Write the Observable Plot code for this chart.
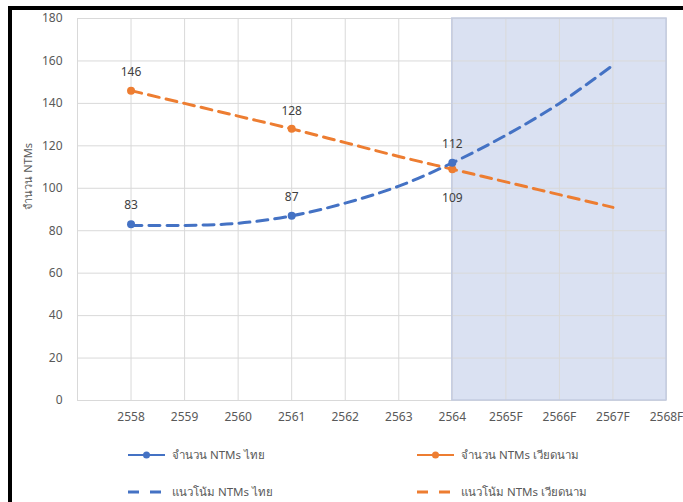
<!DOCTYPE html>
<html><head><meta charset="utf-8">
<script src="https://cdn.jsdelivr.net/npm/d3@7"></script>
<script src="https://cdn.jsdelivr.net/npm/@observablehq/plot@0.6"></script>
<style>
body{margin:0;background:#fff;}
#wrap{position:relative;width:683px;height:502px;overflow:hidden;background:#fff;font-family:"Noto Sans","Open Sans",sans-serif;}
#chart{position:absolute;left:0;top:0;}
#bl{position:absolute;left:8px;top:6px;width:4px;height:496px;background:#000;}
#bt{position:absolute;left:8px;top:6px;width:675px;height:4px;background:#000;}
.leg{position:absolute;height:16px;display:flex;align-items:center;font-size:11.5px;color:#595959;white-space:nowrap;}
.leg svg{margin-right:7px;}
</style></head>
<body>
<div id="wrap">
  <div id="chart"></div>
  <div id="bl"></div><div id="bt"></div>
  <div id="legend"></div>
</div>
<script>
// ---- data ----
const tickYears = [2558, 2559, 2560, 2561, 2562, 2563, 2564, 2565, 2566, 2567, 2568];
const tickLabels = ["2558", "2559", "2560", "2561", "2562", "2563", "2564", "2565F", "2566F", "2567F", "2568F"];
const actualYears = [2558, 2561, 2564];
const thaiActual = [83, 87, 112];
const vnActual = [146, 128, 109];
const trendYears = [2558, 2559, 2560, 2561, 2562, 2563, 2564, 2565, 2566, 2567];
const thaiTrend = [82.5, 82.5, 83.5, 87, 93, 101, 112, 125, 140, 158];
const vnTrend = [146, 140, 134, 128, 121.5, 115, 109, 103, 97, 91];
const forecastRange = [2564, 2568];
const xDomain = [2557, 2568];
const yTicks = [0, 20, 40, 60, 80, 100, 120, 140, 160, 180];
const seriesNames = ["จำนวน NTMs ไทย", "จำนวน NTMs เวียดนาม", "แนวโน้ม NTMs ไทย", "แนวโน้ม NTMs เวียดนาม"];
const yTitle = "จำนวน NTMs";

const BLUE = "#4472C4", ORANGE = "#ED7D31";
const thaiT = trendYears.map((x, i) => ({x, y: thaiTrend[i]}));
const vnT = trendYears.map((x, i) => ({x, y: vnTrend[i]}));
const thaiA = actualYears.map((x, i) => ({x, y: thaiActual[i]}));
const vnA = actualYears.map((x, i) => ({x, y: vnActual[i]}));
const gridX = d3.range(xDomain[0], xDomain[1] + 1);
const labelOf = new Map(tickYears.map((t, i) => [t, tickLabels[i]]));

const chart = Plot.plot({
  width: 683, height: 440,
  marginLeft: 77, marginRight: 17, marginTop: 18, marginBottom: 40,
  style: {fontSize: "12px", color: "#595959", fontFamily: "'Noto Sans','Open Sans',sans-serif", background: "transparent"},
  x: {domain: xDomain, ticks: tickYears, tickFormat: d => labelOf.get(d), tickSize: 0, tickPadding: 12, label: null},
  y: {domain: [0, 180], ticks: yTicks, tickSize: 0, tickPadding: 15, label: null},
  marks: [
    Plot.rect([{x1: forecastRange[0], x2: forecastRange[1]}], {x1: "x1", x2: "x2", y1: 0, y2: 180, fill: "#dae1f2"}),
    Plot.ruleX(gridX, {x: d => d, y1: 0, y2: 180, stroke: "#d9d9d9", strokeWidth: 1}),
    Plot.ruleY(yTicks, {y: d => d, stroke: "#d9d9d9", strokeWidth: 1}),
    Plot.rect([{x1: forecastRange[0], x2: forecastRange[1]}], {x1: "x1", x2: "x2", y1: 0, y2: 180, fill: "none", stroke: "#c3cbe0", strokeWidth: 1.5}),
    Plot.line(vnT, {x: "x", y: "y", stroke: ORANGE, strokeWidth: 3, strokeDasharray: "11,7", curve: "catmull-rom"}),
    Plot.line(thaiT, {x: "x", y: "y", stroke: BLUE, strokeWidth: 3, strokeDasharray: "11,7", curve: "catmull-rom"}),
    Plot.dot(vnA, {x: "x", y: "y", r: 4, fill: ORANGE}),
    Plot.dot(thaiA, {x: "x", y: "y", r: 4, fill: BLUE}),
    Plot.text(vnA, {x: "x", y: "y", text: d => String(d.y), dy: (d) => 0, fill: "#404040", fontSize: 12,
      dy: -18, filter: d => d.x !== 2564}),
    Plot.text(vnA.filter(d => d.x === 2564), {x: "x", y: "y", text: d => String(d.y), dy: 29, fill: "#404040", fontSize: 12}),
    Plot.text(thaiA, {x: "x", y: "y", text: d => String(d.y), dy: -19, fill: "#404040", fontSize: 12}),
    Plot.text([yTitle], {frameAnchor: "left", dx: -49, rotate: -90, text: d => d, fontSize: 11, fill: "#595959"})
  ]
});
document.getElementById("chart").appendChild(chart);

// legend
const legPos = [[128, 455], [417, 455], [128, 492], [417, 492]];
const legColors = [BLUE, ORANGE, BLUE, ORANGE];
const leg = document.getElementById("legend");
seriesNames.forEach((name, i) => {
  const [lx, ly] = legPos[i];
  const div = document.createElement("div");
  div.className = "leg";
  div.style.left = lx + "px";
  div.style.top = (ly - 8) + "px";
  const c = legColors[i];
  const sym = i < 2
    ? `<svg width="37" height="10"><line x1="0" y1="5" x2="37" y2="5" stroke="${c}" stroke-width="2"/><circle cx="18.5" cy="5" r="3.5" fill="${c}"/></svg>`
    : `<svg width="37" height="10"><line x1="0" y1="5" x2="37" y2="5" stroke="${c}" stroke-width="3" stroke-dasharray="11,11"/></svg>`;
  div.innerHTML = sym + `<span>${name}</span>`;
  leg.appendChild(div);
});
</script>
</body></html>
